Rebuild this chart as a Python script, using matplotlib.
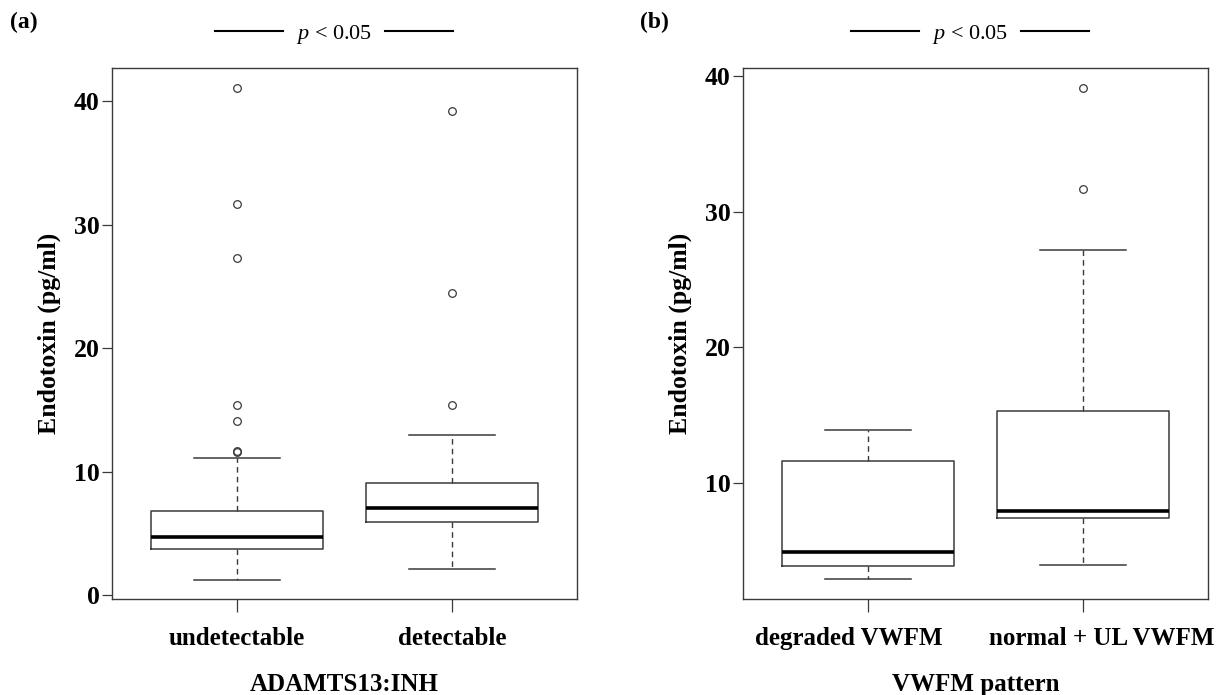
import matplotlib
matplotlib.use("Agg")
import matplotlib.pyplot as plt
from matplotlib.lines import Line2D
from matplotlib.transforms import ScaledTranslation

plt.rcParams['font.family'] = ['Liberation Serif', 'DejaVu Serif']
plt.rcParams['mathtext.fontset'] = 'custom'
plt.rcParams['mathtext.it'] = 'Liberation Serif:italic'
plt.rcParams['mathtext.rm'] = 'Liberation Serif'

# panel (a): endotoxin by ADAMTS13:INH
groups_a = ["undetectable", "detectable"]
q1_a = [3.71, 5.97]
med_a = [4.73, 7.04]
q3_a = [6.80, 9.06]
whislo_a = [1.24, 2.10]
whishi_a = [11.08, 12.96]
fliers_a = [[11.6, 11.7, 14.1, 15.4, 27.3, 31.7, 41.1],
            [15.4, 24.5, 39.2]]

# panel (b): endotoxin by VWFM pattern
groups_b = ["degraded VWFM", "normal + UL VWFM"]
q1_b = [3.90, 7.43]
med_b = [4.93, 7.94]
q3_b = [11.59, 15.32]
whislo_b = [2.94, 3.92]
whishi_b = [13.92, 27.2]
fliers_b = [[], [31.7, 39.1]]

yticks_a = [0, 10, 20, 30, 40]
yticks_b = [10, 20, 30, 40]


def make_stats(q1, med, q3, lo, hi, fl):
    return [dict(q1=a, med=b, q3=c, whislo=d, whishi=e, fliers=f)
            for a, b, c, d, e, f in zip(q1, med, q3, lo, hi, fl)]


def draw_panel(ax, stats, labels, yticks, xlabel, ylim):
    ax.bxp(stats, positions=[1, 2], widths=0.8, showcaps=True,
           boxprops=dict(color='#3a3a3a', linewidth=1.1),
           medianprops=dict(color='black', linewidth=2.6, solid_capstyle='butt'),
           whiskerprops=dict(color='#3a3a3a', linewidth=1.0, linestyle=(0, (4, 3))),
           capprops=dict(color='#3a3a3a', linewidth=1.1),
           capwidths=0.4,
           flierprops=dict(marker='o', markersize=5.5, markerfacecolor='none',
                           markeredgecolor='#3a3a3a', markeredgewidth=0.9))
    ax.set_xlim(0.42, 2.58)
    ax.set_ylim(*ylim)
    ax.set_xticks([1, 2])
    ax.set_xticklabels(labels, fontsize=18, fontweight='bold')
    ax.set_yticks(yticks)
    ax.set_yticklabels([str(t) for t in yticks], fontsize=18.5, fontweight='bold')
    ax.tick_params(axis='y', length=7, width=0.9, color='#3a3a3a', pad=2)
    ax.tick_params(axis='x', length=9, width=0.9, color='#3a3a3a', pad=11)
    ax.set_ylabel("Endotoxin (pg/ml)", fontsize=18.5, fontweight='bold', labelpad=9)
    ax.set_xlabel(xlabel, fontsize=18, fontweight='bold', labelpad=17)
    for s in ax.spines.values():
        s.set_color('#3a3a3a')
        s.set_linewidth(1.0)


fig = plt.figure(figsize=(12.22, 6.95), dpi=100)
W, H = 1222, 695
ax_a = fig.add_axes([112 / W, 1 - 599 / H, 465 / W, 531 / H])
ax_b = fig.add_axes([743 / W, 1 - 599 / H, 465 / W, 531 / H])

draw_panel(ax_a, make_stats(q1_a, med_a, q3_a, whislo_a, whishi_a, fliers_a),
           groups_a, yticks_a, "ADAMTS13:INH", (-0.3, 42.7))
draw_panel(ax_b, make_stats(q1_b, med_b, q3_b, whislo_b, whishi_b, fliers_b),
           groups_b, yticks_b, "VWFM pattern", (1.45, 40.6))

# the long labels of panel (b) sit a little apart from their ticks
for lab, dx in zip(ax_b.get_xticklabels(), (-0.19, 0.19)):
    lab.set_transform(lab.get_transform() + ScaledTranslation(dx, 0, fig.dpi_scale_trans))

# panel letters and significance annotations
fig.text(10 / W, 1 - 22 / H, "(a)", fontsize=17, fontweight='bold', va='center')
fig.text(640 / W, 1 - 22 / H, "(b)", fontsize=17, fontweight='bold', va='center')
for cx in (334, 970):
    fig.text(cx / W, 1 - 34 / H, r"$p$ < 0.05", fontsize=16, ha='center', va='center')
    for x0, x1 in ((cx - 119, cx - 51), (cx + 51, cx + 119)):
        fig.add_artist(Line2D([x0 / W, x1 / W], [1 - 31 / H, 1 - 31 / H],
                              color='black', linewidth=1.5, transform=fig.transFigure))

fig.savefig("out.png", dpi=100)
